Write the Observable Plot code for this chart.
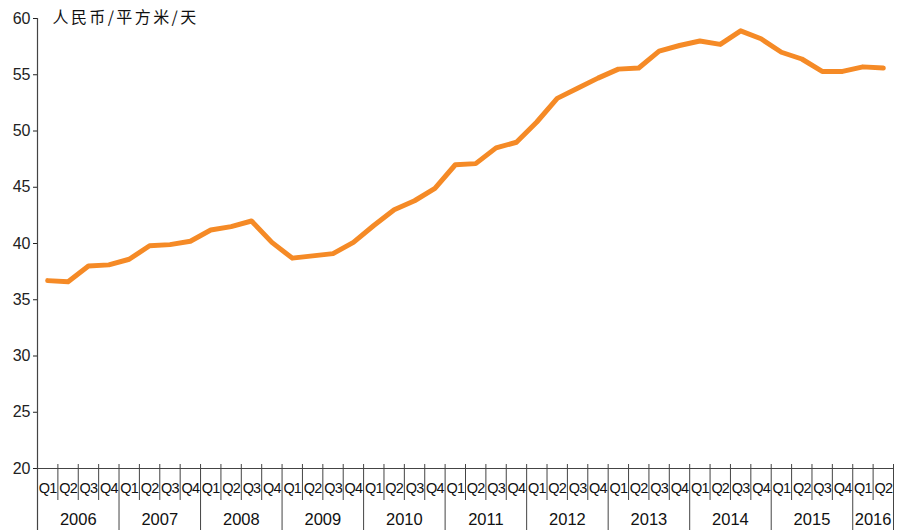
<!DOCTYPE html>
<html>
<head>
<meta charset="utf-8">
<script src="https://cdn.jsdelivr.net/npm/d3@7"></script>
<script src="https://cdn.jsdelivr.net/npm/@observablehq/plot@0.6"></script>
<style>
  html, body { margin: 0; padding: 0; background: #fff; }
  #chart svg { display: block; font-family: "Liberation Sans", Arial, Helvetica, sans-serif; }
</style>
</head>
<body>
<div id="chart"></div>
<script>
const unitLabel = "人民币/平方米/天";
const years = ["2006","2007","2008","2009","2010","2011","2012","2013","2014","2015","2016"];
const quarterNames = ["Q1","Q2","Q3","Q4"];
const values = [
  36.7, 36.6, 38.0, 38.1,
  38.6, 39.8, 39.9, 40.2,
  41.2, 41.5, 42.0, 40.1,
  38.7, 38.9, 39.1, 40.1,
  41.6, 43.0, 43.8, 44.9,
  47.0, 47.1, 48.5, 49.0,
  50.8, 52.9, 53.8, 54.7,
  55.5, 55.6, 57.1, 57.6,
  58.0, 57.7, 58.9, 58.2,
  57.0, 56.4, 55.3, 55.3,
  55.7, 55.6
];
const yTicks = [20, 25, 30, 35, 40, 45, 50, 55, 60];

const data = values.map((v, i) => ({
  i,
  v,
  year: years[Math.floor(i / 4)],
  q: quarterNames[i % 4]
}));

const yearGroups = years.map(y => {
  const idx = data.filter(d => d.year === y).map(d => d.i);
  return {year: y, start: d3.min(idx), end: d3.max(idx)};
});
const yearBounds = yearGroups.map(g => g.end + 0.5);
const quarterBounds = data.map(d => d.i + 0.5).filter(b => !yearBounds.includes(b));

const labelFont = "\"Liberation Sans\", Arial, Helvetica, sans-serif";

const chart = Plot.plot({
  width: 912,
  height: 530,
  marginLeft: 37,
  marginRight: 19,
  marginTop: 18,
  marginBottom: 62,
  style: {fontFamily: labelFont, fontSize: "16px", color: "#222", background: "#fff"},
  x: {type: "linear", domain: [-0.5, values.length - 0.5], axis: null},
  y: {domain: [20, 60], ticks: yTicks, tickSize: 4, tickPadding: 3, label: null, tickFormat: d => String(d)},
  marks: [
    Plot.ruleY([20], {stroke: "#444", strokeWidth: 1.2}),
    Plot.ruleX([-0.5], {y1: 60, y2: 20, insetBottom: -62, stroke: "#444", strokeWidth: 1.2}),
    Plot.ruleX(quarterBounds, {y1: 20, y2: 20, insetTop: -4, insetBottom: -32, stroke: "#444", strokeWidth: 1}),
    Plot.ruleX(yearBounds, {y1: 20, y2: 20, insetTop: -4, insetBottom: -62, stroke: "#444", strokeWidth: 1}),
    Plot.text(data, {x: "i", y: () => 20, text: "q", dy: 20, fontSize: 14.5, fill: "#111"}),
    Plot.text(yearGroups, {x: d => (d.start + d.end) / 2, y: () => 20, text: "year", dy: 51, fontSize: 16.5, fill: "#111"}),
    Plot.line(data, {x: "i", y: "v", stroke: "#f58a26", strokeWidth: 5}),
    Plot.text([unitLabel], {x: () => -0.5, y: () => 60, text: d => d, dx: 15, dy: -1, textAnchor: "start",
      fontSize: 16, fill: "#111",
      fontFamily: "\"Noto Sans CJK SC\", \"Liberation Sans\", sans-serif"})
  ]
});
// letter spacing tweaks
d3.select(chart).selectAll("text")
  .filter(function() { return this.textContent === unitLabel; })
  .style("letter-spacing", "2.4px");
d3.select(chart).selectAll("text")
  .filter(function() { return quarterNames.includes(this.textContent); })
  .style("letter-spacing", "-0.8px");
document.getElementById("chart").appendChild(chart);
</script>
</body>
</html>
